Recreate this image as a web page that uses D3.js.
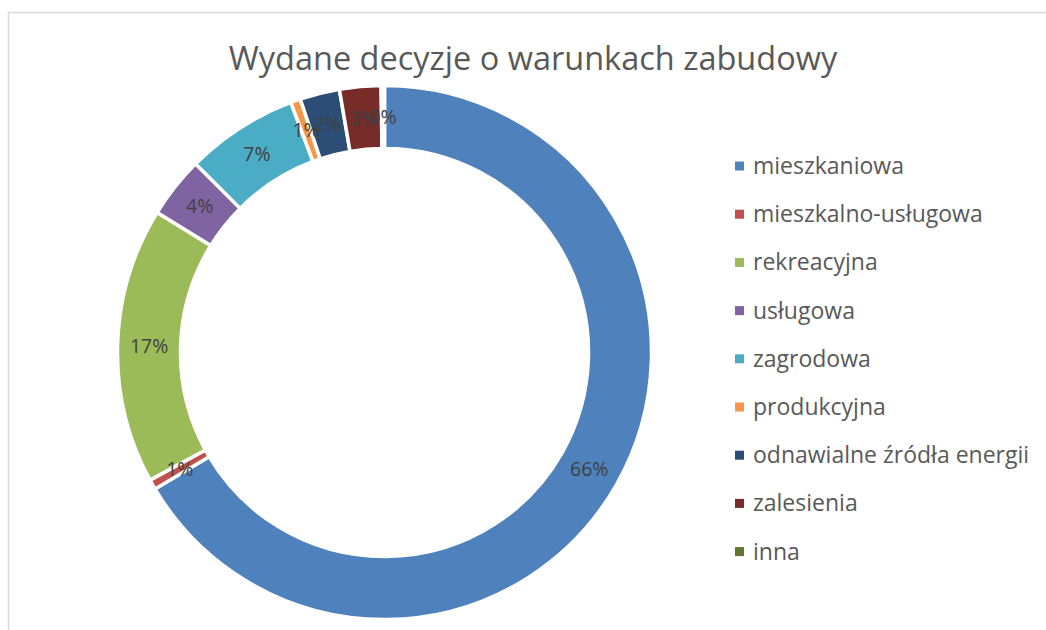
<!DOCTYPE html>
<html>
<head>
<meta charset="utf-8">
<script src="https://cdn.jsdelivr.net/npm/d3@7"></script>
<style>
  body { margin: 0; background: #fff; }
  svg { display: block; font-family: "Open Sans", sans-serif; }
</style>
</head>
<body>
<svg id="chart" width="1046" height="630"></svg>
<script>
// Categories and values (issued decisions)
const categories = [
  "mieszkaniowa",
  "mieszkalno-usługowa",
  "rekreacyjna",
  "usługowa",
  "zagrodowa",
  "produkcyjna",
  "odnawialne źródła energii",
  "zalesienia",
  "inna",
];
const values = [664, 6, 167, 37, 68, 6, 24, 25, 2];
const colors = [
  "#4f81bd", "#c0504d", "#9bbb59", "#8064a2", "#4bacc6",
  "#f79646", "#2c4d75", "#772c2a", "#5f7530",
];
const title = "Wydane decyzje o warunkach zabudowy";

const svg = d3.select("#chart");

// Chart border (runs past the right / bottom edge, as in the crop)
svg.append("rect")
  .attr("x", 8.5)
  .attr("y", 12.5)
  .attr("width", 1100)
  .attr("height", 700)
  .attr("fill", "#fff")
  .attr("stroke", "#d9d9d9")
  .attr("stroke-width", 1.5);

// Title
svg.append("text")
  .attr("x", 533)
  .attr("y", 70)
  .attr("text-anchor", "middle")
  .attr("fill", "#595959")
  .style("font-size", "32.5px")
  .text(title);

// Donut
const cx = 384.5, cy = 352.5;
const outerR = 267, innerR = 204;
const total = d3.sum(values);
const data = categories.map((c, i) => ({ name: c, value: values[i], color: colors[i] }));

const pie = d3.pie().value((d) => d.value).sort(null);
const arc = d3.arc().innerRadius(innerR).outerRadius(outerR);
const midR = (innerR + outerR) / 2;
const labelArc = d3.arc().innerRadius(midR).outerRadius(midR);

const g = svg.append("g").attr("transform", `translate(${cx}, ${cy})`);

const arcs = pie(data);

g.selectAll(".slice")
  .data(arcs)
  .enter()
  .append("path")
  .attr("class", "slice")
  .attr("d", arc)
  .attr("fill", (d) => d.data.color)
  .attr("stroke", "#fff")
  .attr("stroke-width", 3.5)
  .attr("stroke-linejoin", "miter");

// Data labels (percentages, centred in the ring)
g.selectAll(".lbl")
  .data(arcs)
  .enter()
  .append("text")
  .attr("class", "lbl")
  .attr("transform", (d) => `translate(${labelArc.centroid(d)})`)
  .attr("text-anchor", "middle")
  .attr("dy", "0.35em")
  .attr("fill", "#404040")
  .style("font-size", "19.5px")
  .text((d) => Math.round((d.data.value / total) * 100) + "%");

// Legend
const legend = svg.append("g").attr("transform", "translate(735, 166)");
const rowH = 48.2;

const items = legend.selectAll(".item")
  .data(data)
  .enter()
  .append("g")
  .attr("class", "item")
  .attr("transform", (d, i) => `translate(0, ${i * rowH})`);

items.append("rect")
  .attr("x", 0)
  .attr("y", -4.5)
  .attr("width", 9)
  .attr("height", 9)
  .attr("fill", (d) => d.color);

items.append("text")
  .attr("x", 18)
  .attr("y", 0)
  .attr("dy", "0.35em")
  .attr("fill", "#595959")
  .style("font-size", "23px")
  .text((d) => d.name);
</script>
</body>
</html>
